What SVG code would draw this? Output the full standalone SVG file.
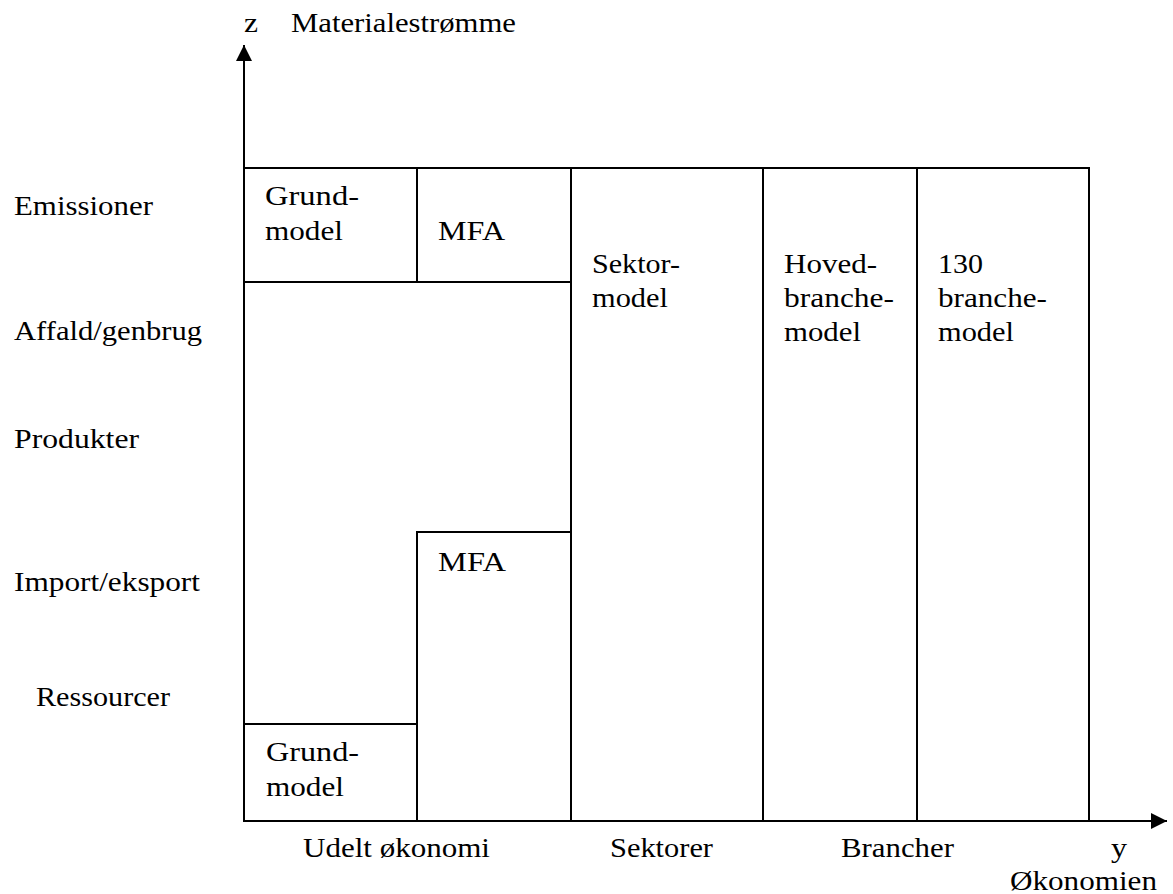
<svg xmlns="http://www.w3.org/2000/svg" width="1173" height="894" viewBox="0 0 1173 894">
  <style>
    .box { fill: none; stroke: #000; stroke-width: 2; }
    .axis { fill: none; stroke: #000; stroke-width: 2; }
    text { font-family: "Liberation Serif", "Times New Roman", serif; font-size: 27px; fill: #000; }
  </style>
  <defs>
    <marker id="arrow" markerUnits="userSpaceOnUse" markerWidth="16" markerHeight="16" viewBox="0 0 16 16" refX="16" refY="8" orient="auto">
      <polygon points="0,0 16,8 0,16" fill="#000"/>
    </marker>
  </defs>

  <rect width="1173" height="894" fill="#fff"/>

  <!-- axes -->
  <g id="connectors">
    <line class="axis" x1="244" y1="822" x2="244" y2="45" marker-end="url(#arrow)"/>
    <line class="axis" x1="243" y1="821" x2="1167" y2="821" marker-end="url(#arrow)"/>
  </g>

  <!-- axis titles -->
  <g id="axis-labels">
    <text x="244" y="32" textLength="14" lengthAdjust="spacingAndGlyphs">z</text>
    <text x="291" y="32" textLength="225" lengthAdjust="spacingAndGlyphs">Materialestrømme</text>
    <text x="1111" y="857" textLength="16" lengthAdjust="spacingAndGlyphs">y</text>
    <text x="1010" y="890" textLength="147" lengthAdjust="spacingAndGlyphs">Økonomien</text>
  </g>

  <!-- material flow categories (z) -->
  <g id="z-categories">
    <text x="14" y="215" textLength="139" lengthAdjust="spacingAndGlyphs">Emissioner</text>
    <text x="14" y="340" textLength="188" lengthAdjust="spacingAndGlyphs">Affald/genbrug</text>
    <text x="14" y="448" textLength="125" lengthAdjust="spacingAndGlyphs">Produkter</text>
    <text x="14" y="591" textLength="186" lengthAdjust="spacingAndGlyphs">Import/eksport</text>
    <text x="36" y="706" textLength="134" lengthAdjust="spacingAndGlyphs">Ressourcer</text>
  </g>

  <!-- economy categories (y) -->
  <g id="y-categories">
    <text x="303" y="857" textLength="187" lengthAdjust="spacingAndGlyphs">Udelt økonomi</text>
    <text x="610" y="857" textLength="103" lengthAdjust="spacingAndGlyphs">Sektorer</text>
    <text x="841" y="857" textLength="113" lengthAdjust="spacingAndGlyphs">Brancher</text>
  </g>

  <!-- model boxes -->
  <g id="grundmodel-top">
    <rect class="box" x="244" y="168" width="173" height="114"/>
    <text x="265" y="205" textLength="94" lengthAdjust="spacingAndGlyphs">Grund-</text>
    <text x="265" y="240" textLength="78" lengthAdjust="spacingAndGlyphs">model</text>
  </g>

  <g id="mfa-top">
    <rect class="box" x="417" y="168" width="154" height="114"/>
    <text x="438" y="240" textLength="67" lengthAdjust="spacingAndGlyphs">MFA</text>
  </g>

  <g id="sektormodel">
    <rect class="box" x="571" y="168" width="192" height="653"/>
    <text x="592" y="273" textLength="88" lengthAdjust="spacingAndGlyphs">Sektor-</text>
    <text x="592" y="307" textLength="76" lengthAdjust="spacingAndGlyphs">model</text>
  </g>

  <g id="hovedbranchemodel">
    <rect class="box" x="763" y="168" width="154" height="653"/>
    <text x="784" y="273" textLength="93" lengthAdjust="spacingAndGlyphs">Hoved-</text>
    <text x="784" y="307" textLength="110" lengthAdjust="spacingAndGlyphs">branche-</text>
    <text x="784" y="341" textLength="77" lengthAdjust="spacingAndGlyphs">model</text>
  </g>

  <g id="branchemodel-130">
    <rect class="box" x="917" y="168" width="172" height="653"/>
    <text x="938" y="273" textLength="45" lengthAdjust="spacingAndGlyphs">130</text>
    <text x="938" y="307" textLength="109" lengthAdjust="spacingAndGlyphs">branche-</text>
    <text x="938" y="341" textLength="76" lengthAdjust="spacingAndGlyphs">model</text>
  </g>

  <g id="udelt-okonomi">
    <rect class="box" x="244" y="282" width="327" height="539"/>
  </g>

  <g id="mfa-bottom">
    <rect class="box" x="417" y="532" width="154" height="289"/>
    <text x="438" y="571" textLength="68" lengthAdjust="spacingAndGlyphs">MFA</text>
  </g>

  <g id="grundmodel-bottom">
    <rect class="box" x="244" y="724" width="173" height="97"/>
    <text x="266" y="761" textLength="93" lengthAdjust="spacingAndGlyphs">Grund-</text>
    <text x="266" y="796" textLength="78" lengthAdjust="spacingAndGlyphs">model</text>
  </g>
</svg>
